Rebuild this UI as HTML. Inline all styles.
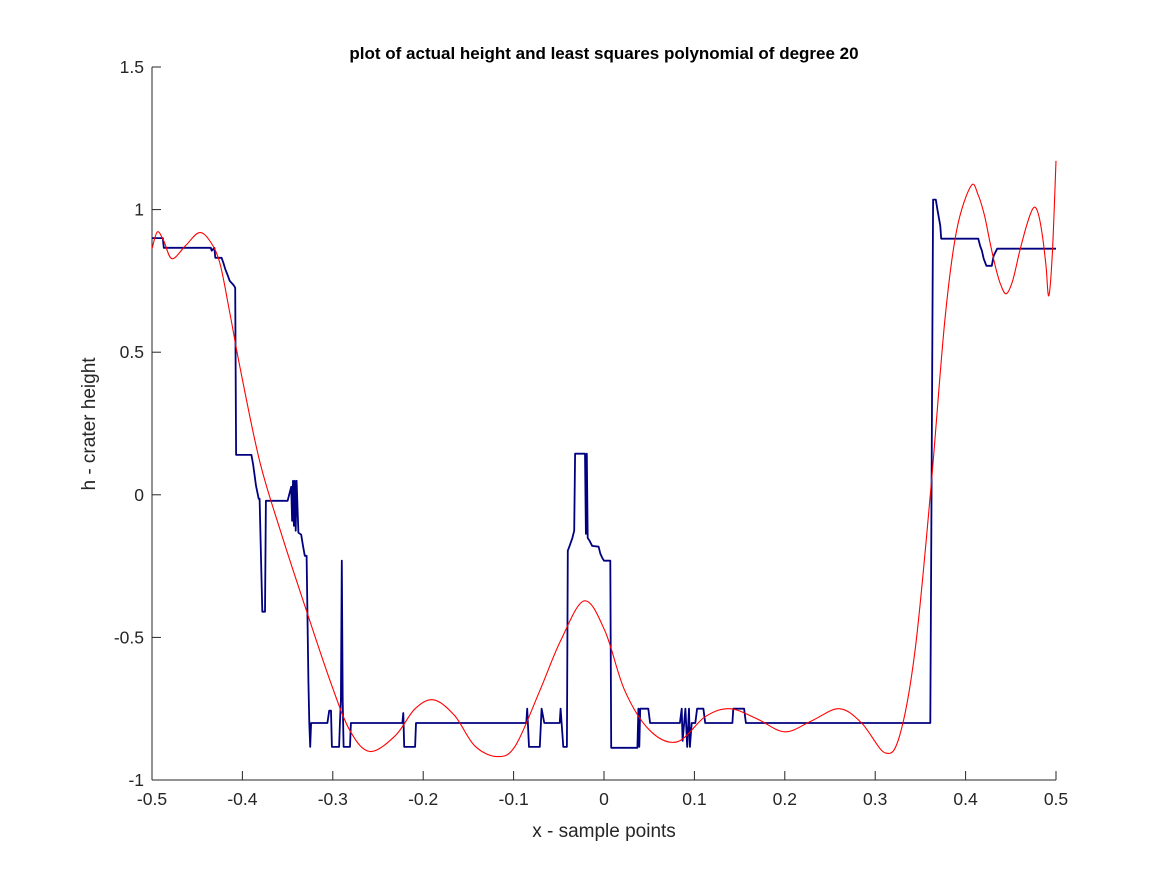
<!DOCTYPE html>
<html><head><meta charset="utf-8"><style>
html,body{margin:0;padding:0;background:#fff}
svg{display:block;font-family:"Liberation Sans",Arial,sans-serif}
</style></head><body>
<svg id="chart" width="1167" height="875" viewBox="0 0 1167 875">
<rect width="1167" height="875" fill="#fff"/>
<text x="604" y="59" text-anchor="middle" font-size="17" font-weight="bold" fill="#000">plot of actual height and least squares polynomial of degree 20</text>
<g id="axes"></g>
<g id="series"></g>
<text x="604" y="837" text-anchor="middle" font-size="19" fill="#262626">x - sample points</text>
<text transform="translate(95,424) rotate(-90)" text-anchor="middle" font-size="19" fill="#262626">h - crater height</text>
</svg>
<script>
const xTicks=[-0.5,-0.4,-0.3,-0.2,-0.1,0,0.1,0.2,0.3,0.4,0.5];
const xTickLabels=["-0.5","-0.4","-0.3","-0.2","-0.1","0","0.1","0.2","0.3","0.4","0.5"];
const yTicks=[-1,-0.5,0,0.5,1,1.5];
const yTickLabels=["-1","-0.5","0","0.5","1","1.5"];
const actualX=[-0.5,-0.488,-0.487,-0.435,-0.434,-0.431,-0.430,-0.423,-0.421,-0.419,-0.416,-0.414,-0.410,-0.408,-0.407,-0.390,-0.388,-0.385,-0.382,-0.381,-0.378,-0.375,-0.374,-0.350,-0.346,-0.345,-0.344,-0.343,-0.342,-0.341,-0.340,-0.338,-0.335,-0.333,-0.331,-0.329,-0.327,-0.326,-0.325,-0.324,-0.306,-0.304,-0.302,-0.301,-0.293,-0.292,-0.291,-0.290,-0.289,-0.288,-0.281,-0.280,-0.223,-0.222,-0.221,-0.209,-0.208,-0.086,-0.085,-0.083,-0.071,-0.069,-0.066,-0.049,-0.048,-0.045,-0.041,-0.040,-0.038,-0.035,-0.033,-0.032,-0.021,-0.020,-0.019,-0.018,-0.016,-0.013,-0.006,-0.004,-0.002,0.000,0.007,0.008,0.037,0.038,0.039,0.040,0.049,0.051,0.084,0.086,0.087,0.090,0.092,0.094,0.095,0.097,0.101,0.103,0.110,0.112,0.142,0.143,0.155,0.157,0.361,0.364,0.367,0.369,0.372,0.373,0.414,0.416,0.418,0.420,0.423,0.429,0.431,0.435,0.5];
const actualH=[0.90,0.90,0.866,0.866,0.856,0.866,0.831,0.831,0.813,0.792,0.768,0.750,0.736,0.726,0.140,0.140,0.105,0.032,-0.014,-0.014,-0.41,-0.41,-0.021,-0.021,0.028,-0.091,0.049,-0.109,0.049,-0.126,0.049,-0.133,-0.140,-0.179,-0.214,-0.214,-0.652,-0.80,-0.884,-0.80,-0.80,-0.757,-0.757,-0.884,-0.884,-0.793,-0.722,-0.231,-0.722,-0.884,-0.884,-0.80,-0.80,-0.765,-0.884,-0.884,-0.80,-0.80,-0.75,-0.884,-0.884,-0.75,-0.80,-0.80,-0.75,-0.884,-0.884,-0.196,-0.179,-0.151,-0.126,0.144,0.144,-0.137,0.144,-0.151,-0.161,-0.179,-0.182,-0.207,-0.221,-0.231,-0.231,-0.887,-0.887,-0.75,-0.884,-0.75,-0.75,-0.80,-0.80,-0.75,-0.863,-0.75,-0.884,-0.75,-0.884,-0.80,-0.80,-0.75,-0.75,-0.80,-0.80,-0.75,-0.75,-0.80,-0.80,1.035,1.035,0.996,0.943,0.898,0.898,0.873,0.856,0.828,0.803,0.803,0.838,0.863,0.863];
const fitX=[-0.5,-0.494,-0.487,-0.478,-0.463,-0.448,-0.436,-0.425,-0.414,-0.403,-0.381,-0.358,-0.331,-0.303,-0.281,-0.259,-0.231,-0.209,-0.188,-0.165,-0.143,-0.118,-0.098,-0.071,-0.048,-0.022,0.001,0.023,0.051,0.081,0.112,0.139,0.169,0.200,0.230,0.260,0.285,0.311,0.327,0.344,0.361,0.377,0.390,0.406,0.414,0.421,0.427,0.433,0.439,0.445,0.452,0.460,0.468,0.475,0.480,0.485,0.489,0.492,0.496,0.5];
const fitH=[0.863,0.922,0.89,0.828,0.873,0.919,0.89,0.813,0.64,0.452,0.119,-0.126,-0.389,-0.652,-0.827,-0.90,-0.845,-0.75,-0.719,-0.775,-0.88,-0.918,-0.88,-0.687,-0.512,-0.372,-0.477,-0.687,-0.827,-0.866,-0.778,-0.75,-0.785,-0.831,-0.792,-0.75,-0.80,-0.905,-0.845,-0.547,0,0.61,0.926,1.083,1.05,0.978,0.885,0.80,0.735,0.705,0.75,0.856,0.95,1.006,0.99,0.908,0.80,0.698,0.85,1.171];

const X0=152,X1=1056,Y0=780,Y1=67;
const sx=v=>X0+(v+0.5)*(X1-X0);
const sy=v=>Y0-(v+1)/2.5*(Y0-Y1);
const NS="http://www.w3.org/2000/svg";
const axes=document.getElementById('axes');
const series=document.getElementById('series');
function mk(tag,attrs,parent){const e=document.createElementNS(NS,tag);for(const k in attrs)e.setAttribute(k,attrs[k]);parent.appendChild(e);return e;}

const xl=mk('line',{x1:X0,y1:Y0,x2:X1,y2:Y0,stroke:'#262626','stroke-width':1},axes);


const yl=mk('line',{x1:X0,y1:Y0,x2:X0,y2:Y1,stroke:'#262626','stroke-width':1},axes);


xTicks.forEach((t,i)=>{
  const x=sx(t);
  const tk=mk('line',{x1:x,y1:Y0,x2:x,y2:Y0-9,stroke:'#262626'},axes);
  
  
  const tx=mk('text',{x:x,y:Y0+25,'text-anchor':'middle','font-size':17.5,fill:'#262626'},axes);
  tx.textContent=xTickLabels[i];
  
  
});
yTicks.forEach((t,i)=>{
  const y=sy(t);
  const tk=mk('line',{x1:X0,y1:y,x2:X0+9,y2:y,stroke:'#262626'},axes);
  
  
  const tx=mk('text',{x:X0-8,y:y+6,'text-anchor':'end','font-size':17.5,fill:'#262626'},axes);
  tx.textContent=yTickLabels[i];
  
  
});

let d=actualX.map((v,i)=>(i?'L':'M')+sx(v).toFixed(1)+','+sy(actualH[i]).toFixed(1)).join('');
const pa=mk('path',{d:d,fill:'none',stroke:'#000080','stroke-width':1.8,'stroke-linejoin':'round'},series);



const P=fitX.map((v,i)=>[sx(v),sy(fitH[i])]);
let d2='M'+P[0][0]+','+P[0][1];
for(let i=0;i<P.length-1;i++){
  const p0=P[Math.max(0,i-1)],p1=P[i],p2=P[i+1],p3=P[Math.min(P.length-1,i+2)];
  const c1=[p1[0]+(p2[0]-p0[0])/6,p1[1]+(p2[1]-p0[1])/6];
  const c2=[p2[0]-(p3[0]-p1[0])/6,p2[1]-(p3[1]-p1[1])/6];
  d2+='C'+c1[0].toFixed(1)+','+c1[1].toFixed(1)+' '+c2[0].toFixed(1)+','+c2[1].toFixed(1)+' '+p2[0].toFixed(1)+','+p2[1].toFixed(1);
}
const pf=mk('path',{d:d2,fill:'none',stroke:'#ff0000','stroke-width':1.1},series);


</script>
</body></html>
